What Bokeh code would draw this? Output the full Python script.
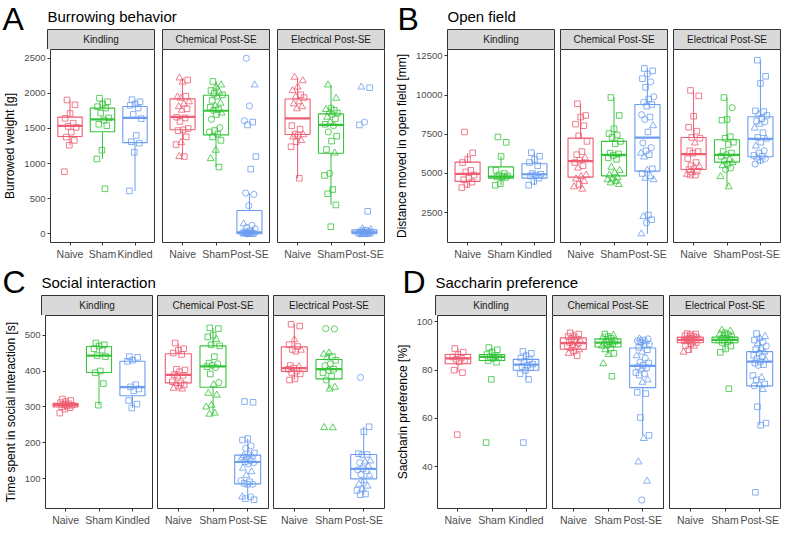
from bokeh.plotting import figure
from bokeh.layouts import row, column
from bokeh.models import Range1d, FixedTicker, Label
from bokeh.embed import file_html
from bokeh.resources import INLINE

FONT = "Liberation Sans"
COLORS = ["#EF5D72", "#35C43A", "#6A9DF0"]
MARKERS = {"s": "square", "t": "triangle", "c": "circle"}
MSIZE = {"s": 5.6, "t": 7.0, "c": 6.2}
FACETS = ["Kindling", "Chemical Post-SE", "Electrical Post-SE"]
KIND_LABELS = ["Naive", "Sham", "Kindled"]
SE_LABELS = ["Naive", "Sham", "Post-SE"]

# ---------------- A: Burrowing behavior ----------------
A_kin_naive = [1906, 1837, 1713, 1644, 1575, 1529, 1515, 1446, 1377, 1330, 1261, 884]
A_kin_naive_shp = "ssssssssssss"
A_kin_sham = [1930, 1880, 1845, 1810, 1790, 1720, 1650, 1620, 1560, 1540, 1190, 1065, 640]
A_kin_sham_shp = "sssssssssssss"
A_kin_kindled = [1910, 1880, 1850, 1830, 1790, 1700, 1640, 1400, 1310, 1290, 1160, 610]
A_kin_kindled_shp = "ssssssssssss"
A_chem_naive = [2220, 2190, 2160, 1950, 1960, 1930, 1880, 1850, 1810, 1780, 1760, 1660, 1650, 1600,
                1500, 1480, 1470, 1380, 1300, 1270, 1100, 1100]
A_chem_naive_shp = "tsttsttttstssssssstsst"
A_chem_sham = [2170, 2120, 2090, 2040, 2020, 2000, 1980, 1950, 1900, 1860, 1820, 1800, 1770, 1760,
               1720, 1700, 1630, 1510, 1470, 1450, 1420, 1380, 1330, 1190, 1070, 950]
A_chem_sham_shp = "sttstsststtssctsccscssstts"
A_chem_post = [2500, 2120, 1820, 1610, 1590, 1550, 1100, 920, 580, 560, 400, 140, 120, 90, 70, 40,
               30, 20, 15, 10, 8, 5, 3, 2, 0, 0, 0]
A_chem_post_shp = "ctccsssscccteccsstcstscstsc".replace("e", "c")
A_elec_naive = [2230, 2180, 2090, 2040, 1980, 1950, 1940, 1880, 1850, 1810, 1780, 1540, 1490, 1420,
                1410, 1400, 1380, 1330, 1310, 1240, 790]
A_elec_naive_shp = "ttttststtttssststtsss"
A_elec_sham = [2120, 1930, 1790, 1770, 1760, 1730, 1720, 1700, 1660, 1640, 1590, 1560, 1540, 1450,
               1390, 1320, 1200, 1150, 860, 830, 630, 570, 410, 100]
A_elec_sham_shp = "ttctstsctstsccssstcsssss"
A_elec_post = [2090, 2080, 1590, 1550, 320, 70, 60, 50, 40, 30, 20, 10, 5, 0, 0, 0, 0, 0, 0]
A_elec_post_shp = "tscssttscstscstscst"
# box stats: whisker low, q1, median, q3, whisker high
A_box = [[(1261, 1385, 1537, 1662, 1906), (1065, 1454, 1628, 1789, 1930), (610, 1298, 1651, 1812, 1910)],
         [(1100, 1482, 1665, 1922, 2220), (950, 1408, 1752, 1973, 2170), (0, 0, 20, 330, 575)],
         [(790, 1413, 1644, 1920, 2230), (410, 1146, 1551, 1708, 2120), (0, 0, 20, 55, 75)]]
A_ticks = [0, 500, 1000, 1500, 2000, 2500]

# ---------------- B: Open field ----------------
B_kin_naive = [7650, 6320, 5900, 5700, 5200, 5100, 4900, 4700, 4600, 4450, 4300, 4100]
B_kin_naive_shp = "ssssssssssss"
B_kin_sham = [7330, 6990, 6090, 5200, 5000, 4900, 4850, 4800, 4780, 4750, 4350, 4250]
B_kin_sham_shp = "ssssssssssss"
B_kin_kindled = [6330, 6100, 5900, 5700, 5500, 5000, 4950, 4900, 4850, 4700, 4500, 4250]
B_kin_kindled_shp = "ssssssssssss"
B_chem_naive = [9450, 8700, 8600, 8150, 8050, 7400, 7050, 6400, 6200, 6000, 5850, 5700, 5500, 5350,
                4900, 4800, 4650, 4500, 4300, 4150, 4000]
B_chem_naive_shp = "ssssssssstssstttttstt"
B_chem_sham = [9850, 8700, 7850, 7550, 7450, 7300, 7050, 6900, 6300, 6250, 6150, 6000, 5900, 5400,
               5200, 5050, 4900, 4750, 4650, 4600, 4500, 4400, 4300]
B_chem_sham_shp = "ssssssssssssstttttttttt"
B_chem_post = [11700, 11550, 11350, 11050, 10850, 10500, 9900, 9750, 9550, 9400, 9300, 8750, 8600,
               8450, 8050, 7650, 6950, 6650, 6450, 6300, 6200, 6050, 5300, 5200, 5000, 4800, 4700,
               4600, 2350, 2250, 2050, 1850, 1150]
B_chem_post_shp = "sscscscscsscsctsccststststttstsct"
B_elec_naive = [10300, 9950, 8650, 7950, 7700, 7300, 7250, 6950, 6450, 6400, 6300, 5950, 5700, 5500,
                5450, 5400, 5250, 5150, 5050, 4950, 4900, 4900]
B_elec_naive_shp = "ssssssstssssssttssttss"
B_elec_sham = [9850, 9200, 8450, 8400, 7350, 7250, 7000, 6850, 6400, 6300, 6200, 6100, 5900, 5800,
               5700, 5600, 5500, 5350, 5250, 4800, 4150]
B_elec_sham_shp = "scsssssssscstctstcctt"
B_elec_post = [12230, 11200, 10750, 9000, 8950, 8800, 8700, 8500, 8350, 8300, 8150, 7900, 7600, 7300,
               7200, 7000, 6750, 6450, 6300, 6150, 6100, 6000, 5950, 5800, 5600]
B_elec_post_shp = "ssssstssscttsststcssstctc"
B_box = [[(4100, 4500, 4970, 5725, 6300), (4250, 4704, 4806, 5419, 6090), (4250, 4704, 4950, 5623, 6330)],
         [(4000, 4765, 5787, 7254, 9450), (4300, 4845, 6193, 7051, 9850), (1150, 5152, 7294, 9399, 11700)],
         [(4900, 5255, 6235, 7294, 10300), (4150, 5727, 6193, 7153, 9850), (5600, 6070, 7214, 8622, 12230)]]
B_ticks = [2500, 5000, 7500, 10000, 12500]

# ---------------- C: Social interaction ----------------
C_kin_naive = [322, 318, 315, 312, 309, 307, 305, 303, 301, 298, 294, 283]
C_kin_naive_shp = "ssssssssssss"
C_kin_sham = [478, 473, 470, 462, 458, 443, 440, 400, 395, 365, 305]
C_kin_sham_shp = "sssssssssss"
C_kin_kindled = [440, 438, 430, 427, 362, 356, 350, 345, 318, 308, 297]
C_kin_kindled_shp = "sssssssssss"
C_chem_naive = [478, 462, 458, 450, 446, 405, 403, 398, 390, 388, 386, 370, 367, 365, 362, 356, 352, 350]
C_chem_naive_shp = "ssssssssssssststtt"
C_chem_sham = [520, 518, 500, 495, 488, 473, 470, 440, 422, 420, 416, 412, 410, 392, 368, 362, 338,
               333, 305, 300, 283, 280]
C_chem_sham_shp = "sssstssssccscscttttttt"
C_chem_post = [315, 313, 212, 208, 192, 185, 172, 168, 165, 163, 160, 158, 150, 148, 145, 142, 130,
               120, 110, 95, 92, 88, 85, 85, 50, 50, 45, 42]
C_chem_post_shp = "ssssccstttstcscctttcsscstcss"
C_elec_naive = [530, 525, 487, 473, 468, 460, 458, 455, 415, 412, 408, 405, 400, 396, 392, 378, 375]
C_elec_naive_shp = "sstssstsstsssssss"
C_elec_sham = [518, 517, 450, 447, 440, 437, 430, 420, 415, 405, 402, 395, 385, 375, 355, 350, 243, 242]
C_elec_sham_shp = "ccttstsccscssctttt"
C_elec_post = [382, 245, 231, 170, 168, 167, 150, 147, 145, 135, 128, 125, 122, 112, 110, 95, 85, 80,
               72, 68, 58, 56]
C_elec_post_shp = "csssscttctscsctttttsss"
C_box = [[(290, 300, 305, 310, 322), (305, 396, 443, 468, 478), (297, 331, 355, 427, 440)],
         [(352, 367, 389, 448, 477), (280, 355, 413, 470, 520), (42, 86, 147, 166, 212)],
         [(375, 399, 408, 467, 530), (350, 378, 405, 432, 450), (56, 100, 128, 168, 245)]]
C_ticks = [100, 200, 300, 400, 500]

# ---------------- D: Saccharin preference ----------------
D_kin_naive = [89, 87.5, 86.5, 85.5, 85, 84.5, 84, 83.5, 80, 79, 53.3]
D_kin_naive_shp = "sssssssssss"
D_kin_sham = [89.4, 88.5, 87.5, 86.5, 86, 85.5, 85.2, 85, 84, 83.3, 76.2, 50]
D_kin_sham_shp = "ssssssssssss"
D_kin_kindled = [87.8, 87, 86, 85, 84.5, 83.5, 82.5, 82, 81.5, 81, 80, 78.5, 76.2, 50]
D_kin_kindled_shp = "ssssssssssssss"
D_chem_naive = [95.5, 95, 94.5, 94, 93.5, 93, 92.5, 92, 91.5, 91, 90.5, 90, 89.5, 89, 88.5, 88, 87, 86]
D_chem_naive_shp = "sstststsstsstttsts"
D_chem_sham = [95, 94.5, 94, 93.5, 93.2, 92.5, 92, 91.8, 91.2, 91, 90.5, 90, 89.2, 88.5, 87, 86.5, 82.7, 77.5]
D_chem_sham_shp = "stststsstsstststts"
D_chem_post = [93, 93, 92.5, 92.2, 91.8, 91.5, 90.8, 90.5, 89.5, 88.5, 87.5, 86, 85, 83.3, 83, 82,
               81.5, 81, 80.5, 79, 78.5, 78, 76, 75, 70.8, 70.3, 60.4, 53, 51.7, 42, 34, 26.2]
D_chem_post_shp = "tcsctscsssttccsscstscsttsssstttc"
D_elec_naive = [95.2, 95, 94.7, 94.3, 94, 93.8, 93.5, 93.2, 93, 92.7, 92.5, 92.3, 92, 91.8, 91.5, 91,
                90.2, 90, 88.5, 87.5]
D_elec_naive_shp = "ssssstssssssstssstst"
D_elec_sham = [96.6, 96.2, 95.5, 95, 94.7, 94.2, 93.8, 93.4, 93.1, 92.8, 92.5, 92.2, 91.8, 91.5, 90,
               88.8, 87.4, 72.3]
D_elec_sham_shp = "ttststsstsstssssss"
D_elec_post = [95.2, 94, 93.3, 92.5, 91.7, 91, 90, 89, 88.5, 87.5, 87, 86.2, 85.6, 84.9, 84.3, 83.6,
               83, 82.3, 82, 77.8, 77, 76, 74.3, 74, 73.5, 72, 64.9, 58.1, 57.2, 29.4]
D_elec_post_shp = "sttsctctstcssctssscstsstctssss"
D_box = [[(79, 82.7, 84.9, 86.5, 89), (83.3, 84, 85.5, 86.5, 89.4), (76.2, 80, 82.3, 84.5, 87.8)],
         [(86, 88.7, 91.2, 93.4, 95.5), (86.5, 89.6, 91.4, 93, 95), (53, 72.8, 81.8, 89.2, 93.3)],
         [(87.5, 91.4, 92.6, 93.7, 95.2), (88, 91.4, 92.6, 93.7, 96.6), (57.2, 73.5, 83.6, 87.7, 95.2)]]
D_ticks = [40, 60, 80, 100]

# ---------------- assemble panel specs ----------------
PANELS = {
    "A": dict(title="Burrowing behavior", ylabel="Burrowed weight [g]", ticks=A_ticks, box=A_box,
              vals=[[A_kin_naive, A_kin_sham, A_kin_kindled], [A_chem_naive, A_chem_sham, A_chem_post],
                    [A_elec_naive, A_elec_sham, A_elec_post]],
              shp=[[A_kin_naive_shp, A_kin_sham_shp, A_kin_kindled_shp],
                   [A_chem_naive_shp, A_chem_sham_shp, A_chem_post_shp],
                   [A_elec_naive_shp, A_elec_sham_shp, A_elec_post_shp]],
              L=47, W=107, G=8, R=8, lx=2, head=29, base=-0.5, tbase=7.6),
    "B": dict(title="Open field", ylabel="Distance moved in open field [mm]", ticks=B_ticks, box=B_box,
              vals=[[B_kin_naive, B_kin_sham, B_kin_kindled], [B_chem_naive, B_chem_sham, B_chem_post],
                    [B_elec_naive, B_elec_sham, B_elec_post]],
              shp=[[B_kin_naive_shp, B_kin_sham_shp, B_kin_kindled_shp],
                   [B_chem_naive_shp, B_chem_sham_shp, B_chem_post_shp],
                   [B_elec_naive_shp, B_elec_sham_shp, B_elec_post_shp]],
              L=55, W=107, G=6, R=4, lx=5, head=29, base=-0.5, tbase=7.6),
    "C": dict(title="Social interaction", ylabel="Time spent in social interaction [s]", ticks=C_ticks, box=C_box,
              vals=[[C_kin_naive, C_kin_sham, C_kin_kindled], [C_chem_naive, C_chem_sham, C_chem_post],
                    [C_elec_naive, C_elec_sham, C_elec_post]],
              shp=[[C_kin_naive_shp, C_kin_sham_shp, C_kin_kindled_shp],
                   [C_chem_naive_shp, C_chem_sham_shp, C_chem_post_shp],
                   [C_elec_naive_shp, C_elec_sham_shp, C_elec_post_shp]],
              L=41, W=111, G=5, R=8, lx=2, head=33, base=2.0, tbase=8.0),
    "D": dict(title="Saccharin preference", ylabel="Saccharin preference [%]", ticks=D_ticks, box=D_box,
              vals=[[D_kin_naive, D_kin_sham, D_kin_kindled], [D_chem_naive, D_chem_sham, D_chem_post],
                    [D_elec_naive, D_elec_sham, D_elec_post]],
              shp=[[D_kin_naive_shp, D_kin_sham_shp, D_kin_kindled_shp],
                   [D_chem_naive_shp, D_chem_sham_shp, D_chem_post_shp],
                   [D_elec_naive_shp, D_elec_sham_shp, D_elec_post_shp]],
              L=43, W=111, G=6, R=4, lx=10, head=33, base=2.0, tbase=8.0),
}

COL_W = 392
HD = 194      # data area height (px)
STRIP = 20    # strip height (px)
BOT = 19      # bottom border for x labels
EDGE = "#333333"
LABEL_ROOM = 6.5   # px kept between the top tick and the frame top so its label is not clipped


def jitter(n):
    return [((k * 0.618034 + 0.27) % 1.0 - 0.5) * 0.4 for k in range(n)]


def header(letter, spec):
    """Panel letter, title and the facet strips (aligned with the facet frames below)."""
    H = spec["head"] + STRIP
    h = figure(width=COL_W, height=H, x_range=Range1d(0, COL_W), y_range=Range1d(0, H),
               toolbar_location=None, output_backend="svg", min_border=0)
    h.axis.visible = False
    h.grid.visible = False
    h.outline_line_color = None
    lefts = [spec["L"] + fi * (spec["W"] + spec["G"]) for fi in range(3)]
    rights = [l + spec["W"] for l in lefts]
    h.quad(left=lefts, right=rights, bottom=[0] * 3, top=[STRIP] * 3,
           fill_color="#D9D9D9", line_color=EDGE, line_width=1)
    for fi in range(3):
        h.add_layout(Label(x=(lefts[fi] + rights[fi]) / 2, y=STRIP / 2, text=FACETS[fi], text_font=FONT,
                           text_font_size="10px", text_color="#1A1A1A", text_align="center",
                           text_baseline="middle"))
    # labels are anchored at their vertical middle; offsets place the baselines
    h.add_layout(Label(x=spec["lx"], y=STRIP + spec["base"] + 11.1, text=letter, text_font=FONT,
                       text_font_size="32px", text_color="black", text_baseline="middle", text_align="left"))
    h.add_layout(Label(x=spec["L"], y=STRIP + spec["tbase"] + 5.2, text=spec["title"], text_font=FONT,
                       text_font_size="15px", text_color="black", text_baseline="middle", text_align="left"))
    return h


def y_limits(spec):
    allv = [v for f in spec["vals"] for g in f for v in g]
    lo, hi = min(allv), max(allv)
    span = hi - lo
    y0 = lo - 0.05 * span
    y1 = hi + 0.05 * span
    top_tick = max(spec["ticks"])
    need = (top_tick * HD - LABEL_ROOM * y0) / (HD - LABEL_ROOM)
    return y0, max(y1, need)


def facet(spec, fi):
    y0, y1 = y_limits(spec)
    first = fi == 0
    last = fi == 2
    left = spec["L"] if first else spec["G"] - 1
    right = spec["R"] if last else 1
    W = spec["W"]
    p = figure(width=left + W + right, height=HD + BOT,
               x_range=Range1d(0.4, 3.6), y_range=Range1d(y0, y1),
               toolbar_location=None, output_backend="svg",
               min_border_left=left, min_border_right=right, min_border_top=0, min_border_bottom=BOT)
    p.grid.visible = False
    p.outline_line_color = EDGE
    p.outline_line_width = 1
    p.background_fill_color = "white"
    p.border_fill_color = "white"

    labels = KIND_LABELS if fi == 0 else SE_LABELS
    xa = p.xaxis[0]
    xa.ticker = FixedTicker(ticks=[1, 2, 3])
    xa.major_label_overrides = {1: labels[0], 2: labels[1], 3: labels[2]}
    xa.major_label_text_font = FONT
    xa.major_label_text_font_size = "10.5px"
    xa.major_label_text_color = "#4D4D4D"
    xa.major_label_standoff = 2
    xa.major_tick_out = 3
    xa.major_tick_in = 0
    xa.minor_tick_out = 0
    xa.minor_tick_in = 0
    xa.axis_line_color = None
    xa.major_tick_line_color = EDGE

    ya = p.yaxis[0]
    if first:
        ya.ticker = FixedTicker(ticks=spec["ticks"])
        ya.major_label_text_font = FONT
        ya.major_label_text_font_size = "9.5px"
        ya.major_label_text_color = "#4D4D4D"
        ya.major_label_standoff = 2
        ya.major_tick_out = 3
        ya.major_tick_in = 0
        ya.minor_tick_out = 0
        ya.minor_tick_in = 0
        ya.axis_line_color = None
        ya.major_tick_line_color = EDGE
        ya.axis_label = spec["ylabel"]
        ya.axis_label_text_font = FONT
        ya.axis_label_text_font_size = "12px"
        ya.axis_label_text_font_style = "normal"
        ya.axis_label_text_color = "black"
        ya.axis_label_standoff = 4
    else:
        ya.visible = False

    for gi in range(3):
        col = COLORS[gi]
        pos = gi + 1
        wlo, q1, med, q3, whi = spec["box"][fi][gi]
        p.segment(x0=[pos, pos], x1=[pos, pos], y0=[wlo, q3], y1=[q1, whi], line_color=col, line_width=1)
        p.vbar(x=[pos], width=0.75, bottom=[q1], top=[q3], fill_color=None, line_color=col, line_width=1.1)
        p.segment(x0=[pos - 0.375], x1=[pos + 0.375], y0=[med], y1=[med], line_color=col, line_width=2.2)
        vals = spec["vals"][fi][gi]
        shp = spec["shp"][fi][gi]
        jit = jitter(len(vals))
        for code in "sct":
            idx = [k for k in range(len(vals)) if shp[k] == code]
            if idx:
                p.scatter(x=[pos + jit[k] for k in idx], y=[vals[k] for k in idx], marker=MARKERS[code],
                          size=MSIZE[code], fill_color=None, line_color=col, line_width=0.8)
    return p


def panel(letter):
    spec = PANELS[letter]
    return column(header(letter, spec), row(*[facet(spec, fi) for fi in range(3)]))


layout = row(column(panel("A"), panel("C")), column(panel("B"), panel("D")))
open("out.html", "w").write(file_html(layout, INLINE))
